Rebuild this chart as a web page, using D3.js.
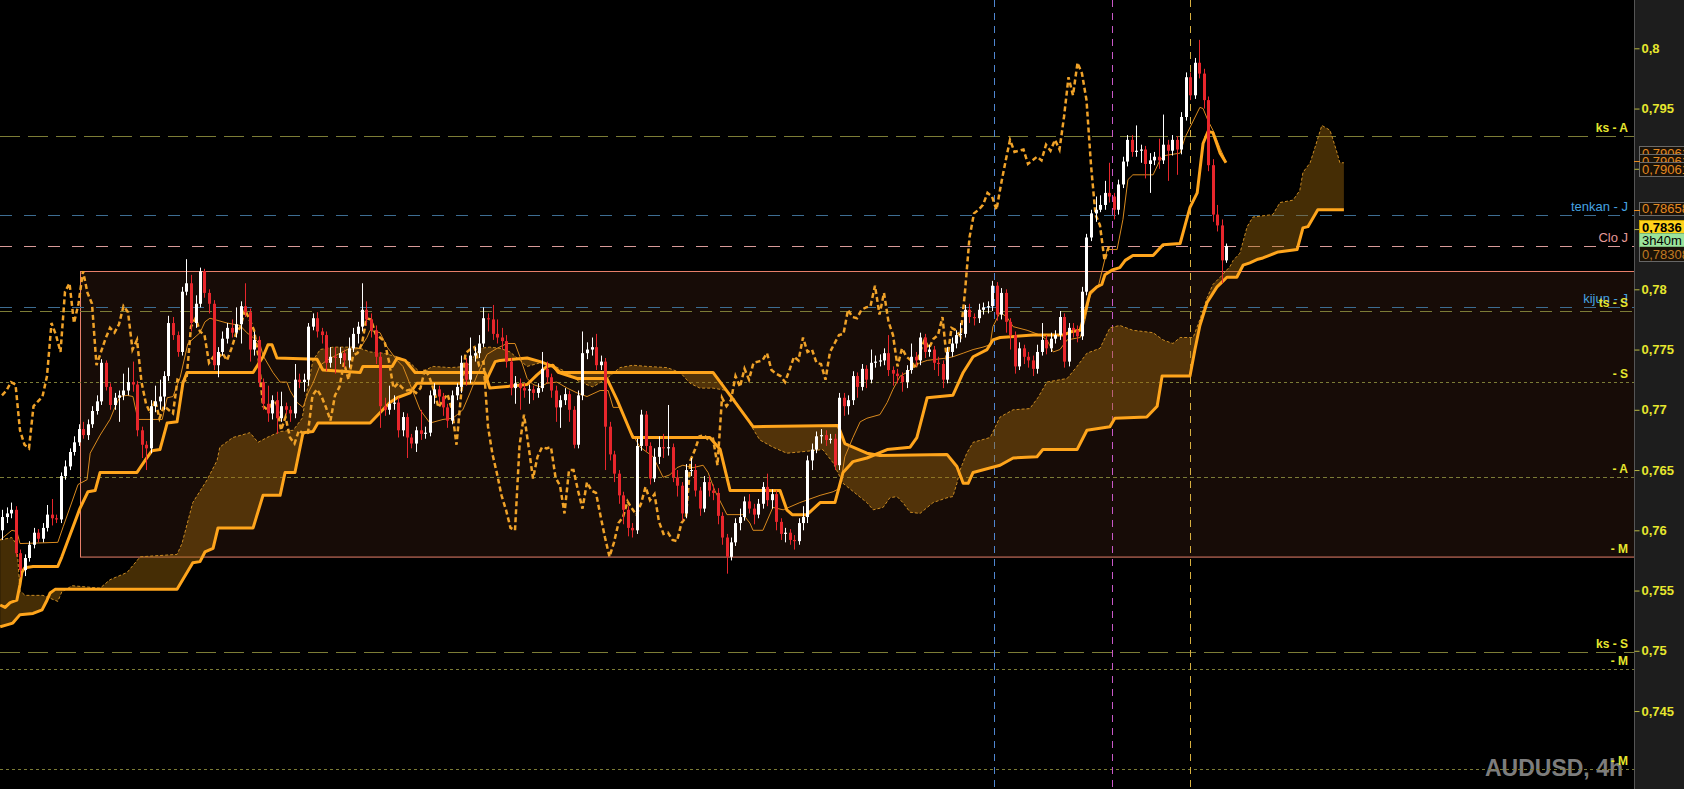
<!DOCTYPE html>
<html><head><meta charset="utf-8">
<script src="https://cdn.jsdelivr.net/npm/d3@7"></script>
<style>html,body{margin:0;background:#000;overflow:hidden}</style>
</head><body>
<svg id="c" width="1684" height="789"></svg>
<script>
// ---------- DATA ----------
const firstOpen = 0.7600;
const closes = [
.7611,.7614,.7617,.7581,.7567,.7577,.7588,.7598,.7593,.7602,
.7613,.7610,.7609,.7645,.7653,.7665,.7673,.7684,.7679,.7688,
.7699,.7707,.7739,.7719,.7704,.7710,.7712,.7716,.7723,.7721,
.7683,.7671,.7668,.7703,.7707,.7711,.7728,.7772,.7762,.7748,
.7798,.7805,.7772,.7788,.7815,.7797,.7788,.7737,.7748,.7759,
.7768,.7764,.7771,.7786,.7781,.7750,.7758,.7723,.7705,.7697,
.7708,.7693,.7703,.7700,.7697,.7725,.7723,.7725,.7769,.7776,
.7765,.7762,.7739,.7744,.7743,.7747,.7741,.7751,.7763,.7769,
.7783,.7775,.7766,.7744,.7703,.7700,.7705,.7706,.7683,.7694,
.7677,.7672,.7683,.7680,.7681,.7712,.7717,.7711,.7702,.7691,
.7712,.7719,.7739,.7725,.7745,.7747,.7755,.7776,.7775,.7763,
.7760,.7757,.7740,.7718,.7722,.7718,.7716,.7717,.7714,.7718,
.7734,.7727,.7716,.7702,.7708,.7713,.7700,.7671,.7712,.7747,
.7750,.7752,.7737,.7740,.7686,.7663,.7647,.7629,.7617,.7602,
.7600,.7670,.7696,.7670,.7643,.7661,.7669,.7668,.7669,.7644,
.7637,.7614,.7650,.7650,.7633,.7618,.7640,.7633,.7631,.7612,
.7594,.7578,.7590,.7606,.7611,.7624,.7618,.7613,.7622,.7636,
.7625,.7630,.7607,.7597,.7598,.7592,.7591,.7606,.7611,.7658,
.7667,.7678,.7679,.7675,.7676,.7654,.7710,.7703,.7708,.7728,
.7719,.7734,.7725,.7739,.7740,.7741,.7747,.7733,.7730,.7728,
.7723,.7733,.7744,.7741,.7760,.7748,.7750,.7739,.7738,.7725,
.7748,.7755,.7762,.7763,.7783,.7777,.7776,.7783,.7785,.7786,
.7803,.7779,.7797,.7773,.7762,.7736,.7751,.7744,.7741,.7734,
.7748,.7758,.7751,.7759,.7762,.7777,.7740,.7768,.7766,.7761,
.7798,.7843,.7863,.7866,.7870,.7880,.7877,.7866,.7887,.7906,
.7924,.7914,.7915,.7916,.7904,.7907,.7910,.7907,.7920,.7915,
.7924,.7916,.7943,.7976,.7961,.7988,.7979,.7957,.7903,.7862,
.7853,.7824,.7836];
const highs = [
.7617,.7619,.7623,.7620,.7584,.7580,.7591,.7602,.7601,.7606,
.7621,.7626,.7613,.7648,.7658,.7668,.7678,.7688,.7690,.7692,
.7703,.7712,.7742,.7741,.7722,.7714,.7716,.7730,.7735,.7740,
.7724,.7686,.7674,.7708,.7720,.7725,.7732,.7778,.7777,.7765,
.7802,.7825,.7812,.7795,.7818,.7817,.7800,.7791,.7752,.7765,
.7772,.7775,.7785,.7790,.7805,.7784,.7765,.7761,.7726,.7720,
.7712,.7715,.7715,.7706,.7703,.7738,.7730,.7730,.7772,.7780,
.7781,.7768,.7765,.7752,.7752,.7752,.7750,.7760,.7768,.7773,
.7805,.7790,.7780,.7770,.7748,.7710,.7720,.7712,.7710,.7698,
.7697,.7680,.7686,.7700,.7686,.7716,.7722,.7720,.7714,.7705,
.7716,.7722,.7745,.7743,.7760,.7752,.7762,.7785,.7780,.7787,
.7775,.7768,.7762,.7743,.7728,.7726,.7722,.7721,.7720,.7722,
.7748,.7740,.7730,.7720,.7712,.7718,.7716,.7703,.7716,.7765,
.7756,.7760,.7763,.7745,.7743,.7690,.7666,.7650,.7632,.7620,
.7606,.7676,.7700,.7699,.7673,.7668,.7678,.7680,.7704,.7672,
.7650,.7640,.7655,.7660,.7655,.7636,.7645,.7645,.7638,.7635,
.7615,.7597,.7594,.7610,.7618,.7628,.7630,.7622,.7626,.7640,
.7647,.7634,.7633,.7610,.7602,.7601,.7596,.7610,.7620,.7662,
.7672,.7682,.7684,.7683,.7680,.7680,.7714,.7714,.7712,.7732,
.7731,.7738,.7737,.7750,.7745,.7746,.7751,.7762,.7736,.7734,
.7731,.7737,.7755,.7748,.7764,.7763,.7754,.7753,.7744,.7741,
.7752,.7760,.7766,.7772,.7787,.7788,.7780,.7788,.7789,.7790,
.7807,.7806,.7801,.7800,.7776,.7765,.7756,.7754,.7748,.7745,
.7754,.7772,.7762,.7764,.7766,.7782,.7780,.7772,.7772,.7770,
.7802,.7846,.7866,.7877,.7878,.7890,.7905,.7880,.7891,.7910,
.7928,.7928,.7936,.7920,.7919,.7913,.7914,.7925,.7945,.7924,
.7928,.7927,.7947,.7980,.7980,.7992,.8007,.7983,.7960,.7908,
.7870,.7858,.7838];
const lows = [
.7592,.7606,.7610,.7578,.7561,.7562,.7574,.7585,.7590,.7590,
.7599,.7604,.7606,.7606,.7642,.7650,.7662,.7670,.7676,.7675,
.7685,.7696,.7704,.7716,.7700,.7700,.7690,.7708,.7712,.7715,
.7678,.7660,.7650,.7664,.7698,.7700,.7700,.7724,.7758,.7744,
.7745,.7795,.7765,.7768,.7785,.7793,.7780,.7733,.7727,.7745,
.7755,.7760,.7760,.7755,.7777,.7740,.7745,.7719,.7700,.7690,
.7692,.7680,.7690,.7696,.7690,.7693,.7718,.7715,.7720,.7766,
.7760,.7755,.7732,.7735,.7730,.7738,.7735,.7735,.7748,.7755,
.7765,.7770,.7760,.7738,.7685,.7695,.7696,.7700,.7677,.7678,
.7660,.7668,.7665,.7675,.7676,.7678,.7705,.7705,.7695,.7685,
.7688,.7708,.7714,.7720,.7722,.7740,.7743,.7752,.7765,.7758,
.7755,.7750,.7735,.7712,.7705,.7700,.7710,.7705,.7708,.7710,
.7715,.7722,.7710,.7690,.7685,.7704,.7690,.7668,.7668,.7708,
.7742,.7745,.7733,.7733,.7650,.7658,.7640,.7622,.7605,.7595,
.7594,.7597,.7666,.7665,.7638,.7640,.7655,.7660,.7662,.7640,
.7628,.7608,.7610,.7645,.7628,.7612,.7615,.7628,.7625,.7605,
.7588,.7564,.7575,.7587,.7600,.7608,.7614,.7605,.7610,.7618,
.7620,.7618,.7600,.7592,.7590,.7588,.7584,.7588,.7600,.7606,
.7650,.7664,.7672,.7670,.7672,.7650,.7650,.7695,.7696,.7704,
.7710,.7716,.7718,.7722,.7735,.7736,.7737,.7728,.7720,.7722,
.7715,.7718,.7730,.7736,.7737,.7743,.7744,.7733,.7728,.7718,
.7722,.7744,.7751,.7756,.7760,.7772,.7770,.7772,.7779,.7780,
.7782,.7774,.7775,.7764,.7750,.7730,.7733,.7738,.7735,.7728,
.7730,.7745,.7746,.7748,.7755,.7758,.7735,.7736,.7760,.7756,
.7758,.7795,.7840,.7856,.7864,.7866,.7872,.7858,.7862,.7884,
.7902,.7910,.7910,.7905,.7892,.7880,.7903,.7900,.7904,.7890,
.7911,.7895,.7912,.7940,.7957,.7958,.7975,.7950,.7898,.7856,
.7848,.7805,.7822];

// Ichimoku lines as [bar index, price] vertices
const tenkan = [[-0.4,.7592],[2.2,.7600],[3.3,.7599],[4.0,.7589],[12.4,.7590],[13.6,.7603],[16.9,.7638],[18.9,.7642],[19.6,.7664],[21.8,.7679],[24.0,.7692],[25.1,.7702],[26.2,.7711],[27.8,.7712],[29.1,.7711],[30.2,.7692],[35.6,.7692],[36.7,.7710],[38.0,.7711],[39.6,.7727],[41.3,.7755],[44.0,.7764],[45.1,.7773],[46.2,.7776],[50.0,.7772],[52.9,.7770],[54.4,.7764],[55.8,.7760],[57.3,.7755],[58.0,.7745],[60.2,.7731],[61.8,.7723],[63.3,.7723],[64.0,.7716],[65.6,.7706],[66.9,.7702],[68.0,.7714],[69.1,.7722],[70.7,.7737],[72.2,.7741],[73.6,.7744],[76.7,.7750],[79.6,.7751],[81.1,.7760],[81.8,.7766],[84.0,.7764],[85.6,.7752],[87.8,.7741],[89.1,.7736],[90.7,.7721],[92.9,.7700],[95.1,.7689],[98.0,.7692],[100.2,.7693],[102.4,.7700],[104.0,.7714],[105.6,.7729],[107.8,.7746],[110.0,.7751],[112.2,.7755],[114.0,.7755],[115.1,.7744],[116.7,.7726],[118.0,.7721],[119.6,.7719],[121.1,.7722],[123.3,.7723],[125.6,.7718],[127.8,.7714],[130.0,.7711],[132.9,.7716],[134.7,.7716],[135.8,.7702],[137.3,.7702],[139.6,.7683],[141.8,.7669],[144.7,.7661],[146.9,.7644],[148.4,.7646],[150.0,.7652],[151.3,.7654],[153.6,.7652],[155.8,.7654],[156.9,.7648],[158.4,.7633],[161.1,.7613],[164.7,.7613],[166.2,.7606],[166.9,.7600],[169.1,.7600],[171.3,.7619],[173.6,.7617],[177.3,.7623],[181.8,.7629],[184.7,.7632],[186.2,.7635],[187.3,.7661],[189.1,.7677],[190.7,.7690],[192.2,.7693],[195.1,.7696],[196.7,.7706],[198.0,.7717],[199.6,.7728],[201.1,.7731],[202.4,.7735],[204.0,.7739],[205.6,.7741],[210.0,.7743],[211.3,.7744],[213.6,.7747],[215.8,.7750],[218.0,.7752],[219.6,.7754],[220.2,.7769],[221.8,.7781],[223.3,.7777],[224.7,.7769],[227.8,.7766],[230.7,.7762],[232.2,.7758],[233.6,.7748],[235.1,.7750],[236.7,.7758],[239.6,.7760],[240.7,.7775],[241.8,.7795],[243.6,.7802],[245.6,.7833],[247.8,.7833],[249.1,.7858],[250.2,.7891],[251.3,.7895],[255.8,.7895],[257.3,.7907],[258.4,.7911],[261.8,.7913],[262.9,.7926],[266.2,.7951],[266.9,.7950],[268.0,.7940],[269.1,.7932],[270.7,.7917],[272.0,.7906]];

const kijun = [[-0.4,.7538],[0.7,.7536],[1.8,.7540],[3.3,.7542],[4.0,.7555],[4.4,.7565],[5.1,.7569],[6.9,.7570],[12.4,.7570],[13.3,.7578],[14.4,.7589],[17.3,.7618],[19.1,.7632],[20.7,.7633],[21.8,.7648],[30.0,.7648],[31.8,.7658],[33.3,.7666],[35.1,.7667],[36.7,.7689],[38.9,.7690],[40.2,.7722],[41.1,.7731],[55.8,.7731],[58.0,.7744],[59.1,.7754],[60.0,.7754],[61.1,.7743],[70.0,.7742],[71.3,.7733],[79.6,.7731],[80.2,.7736],[86.7,.7736],[87.8,.7743],[89.6,.7741],[91.8,.7731],[107.3,.7731],[108.4,.7718],[116.7,.7721],[118.9,.7729],[121.1,.7736],[122.4,.7737],[123.6,.7731],[127.8,.7726],[134.4,.7726],[136.7,.7708],[140.2,.7677],[157.3,.7677],[159.6,.7667],[161.8,.7633],[172.9,.7633],[174.4,.7617],[175.6,.7613],[178.9,.7613],[181.8,.7623],[185.1,.7623],[186.9,.7648],[189.1,.7657],[192.2,.7660],[196.7,.7667],[201.8,.7669],[203.3,.7677],[205.6,.7710],[211.3,.7712],[213.6,.7731],[215.8,.7744],[218.9,.7750],[220.2,.7758],[221.8,.7760],[229.1,.7762],[235.8,.7762],[237.8,.7765],[239.6,.7766],[240.7,.7781],[241.8,.7797],[243.3,.7802],[244.4,.7804],[245.1,.7812],[246.7,.7816],[248.4,.7818],[249.6,.7824],[251.3,.7828],[255.8,.7828],[258.0,.7837],[261.8,.7838],[262.9,.7853],[264.0,.7868],[265.6,.7880],[266.9,.7921],[268.0,.7931],[269.1,.7930],[270.7,.7913],[272.0,.7905]];

const spanA = [[-0.4,.7592],[2.2,.7594],[3.3,.7588],[4.0,.7550],[5.1,.7546],[9.1,.7546],[12.4,.7541],[13.3,.7549],[15.6,.7554],[21.8,.7552],[24.0,.7559],[27.8,.7565],[30.7,.7578],[38.9,.7580],[40.0,.7589],[42.4,.7623],[45.6,.7642],[47.8,.7658],[48.4,.7669],[51.3,.7677],[55.1,.7681],[56.9,.7673],[58.9,.7677],[61.8,.7682],[64.7,.7683],[66.7,.7693],[67.8,.7716],[69.1,.7741],[70.7,.7750],[73.6,.7752],[78.0,.7752],[79.6,.7751],[81.8,.7748],[84.7,.7747],[87.8,.7744],[90.7,.7739],[92.9,.7731],[95.8,.7736],[99.6,.7735],[103.3,.7736],[106.2,.7751],[108.4,.7752],[110.7,.7751],[112.9,.7748],[116.7,.7736],[119.6,.7739],[122.4,.7737],[125.6,.7731],[128.4,.7723],[131.3,.7719],[134.4,.7726],[137.3,.7735],[140.2,.7737],[143.3,.7736],[147.8,.7735],[150.7,.7731],[152.9,.7722],[155.1,.7718],[158.0,.7718],[161.1,.7716],[162.4,.7711],[165.6,.7692],[168.4,.7675],[171.3,.7669],[174.4,.7664],[177.3,.7665],[182.4,.7667],[184.7,.7656],[186.9,.7639],[192.2,.7623],[193.6,.7617],[195.8,.7619],[197.3,.7627],[198.9,.7628],[200.2,.7623],[201.8,.7615],[204.0,.7614],[206.9,.7623],[210.0,.7627],[211.3,.7628],[212.2,.7639],[212.9,.7650],[214.4,.7664],[215.8,.7673],[219.6,.7677],[221.8,.7694],[224.7,.7700],[228.4,.7701],[230.2,.7710],[232.2,.7723],[236.7,.7726],[238.9,.7736],[241.1,.7747],[244.0,.7751],[246.2,.7768],[248.4,.7770],[251.3,.7766],[255.8,.7764],[258.0,.7758],[260.2,.7755],[261.8,.7760],[264.7,.7760],[266.2,.7775],[267.8,.7793],[269.1,.7804],[270.7,.7810],[272.9,.7819],[273.6,.7824],[275.1,.7830],[276.7,.7852],[278.0,.7860],[282.4,.7862],[284.0,.7872],[286.9,.7874],[288.4,.7882],[289.1,.7897],[290.7,.7905],[291.8,.7918],[293.3,.7936],[295.1,.7932],[295.8,.7924],[296.7,.7913],[297.3,.7905],[298.2,.7905]];

const spanB = [[-0.4,.7520],[2.4,.7523],[4.0,.7530],[6.9,.7531],[8.9,.7534],[10.0,.7542],[10.7,.7548],[11.8,.7551],[38.9,.7551],[42.4,.7573],[44.0,.7574],[45.1,.7582],[46.9,.7585],[48.0,.7602],[55.8,.7602],[58.0,.7629],[61.8,.7629],[62.9,.7648],[65.1,.7648],[66.9,.7681],[69.1,.7682],[70.2,.7689],[81.8,.7689],[86.2,.7706],[87.8,.7710],[90.7,.7714],[92.2,.7722],[107.3,.7722],[109.6,.7740],[110.7,.7741],[116.7,.7743],[119.6,.7740],[122.4,.7736],[124.0,.7731],[158.0,.7731],[161.8,.7712],[166.9,.7686],[185.8,.7687],[187.3,.7672],[192.2,.7664],[195.1,.7662],[210.0,.7663],[212.2,.7653],[213.6,.7639],[214.7,.7639],[215.8,.7648],[221.8,.7654],[224.7,.7660],[230.0,.7661],[231.3,.7667],[238.9,.7667],[241.1,.7683],[246.2,.7686],[247.3,.7693],[254.4,.7694],[256.7,.7703],[257.8,.7728],[264.0,.7728],[265.1,.7750],[266.2,.7770],[267.8,.7789],[270.0,.7802],[271.1,.7806],[272.2,.7810],[274.4,.7810],[275.8,.7820],[277.3,.7822],[279.1,.7825],[280.2,.7826],[283.6,.7831],[287.8,.7833],[289.1,.7851],[290.2,.7852],[292.4,.7866],[298.2,.7866]];

const chikouShift = 26;
const yTicks = [0.745,0.75,0.755,0.76,0.765,0.77,0.775,0.78,0.785,0.79,0.795,0.8];
const levelValues = [0.7927,0.7862,0.7836,0.7785,0.7782,0.7723,0.7644,0.7578,0.7499,0.7485,0.7402];
const levelLabels = ["ks - A","tenkan - J","Clo J","kijun - J","ts - S","- S","- A","- M","ks - S","- M","- M"];
const zoneTop = 0.7815, zoneBottom = 0.7578, zoneStart = 17.3;
const markerBars = [220.4, 246.7, 264.0];
const lineTagValues = [0.79061, 0.79061, 0.79061];
const spanBTag = 0.78658;
const lastPrice = 0.7836;
const timerText = "3h40m";
const symbolText = "AUDUSD, 4h";

// ---------- STYLES ----------
const W = 1684, H = 789, plotRight = 1634;
const FONT = "'Liberation Sans', Arial, sans-serif";
const YEL = "#e6e62e", BLUE = "#45a3e0", PINK = "#e69a98";
const OLIVE = "#7c7c36", BLUEL = "#3d6d92", PINKL = "#d89a98";
const levelStyle = [
  {c:OLIVE, d:"20,8", t:YEL, b:true},
  {c:BLUEL, d:"12,12", t:BLUE, b:false},
  {c:PINKL, d:"12,12", t:PINK, b:false},
  {c:BLUEL, d:"12,12", t:BLUE, b:false},
  {c:OLIVE, d:"12,8", t:YEL, b:true},
  {c:OLIVE, d:"3,3", t:YEL, b:true},
  {c:OLIVE, d:"4,3", t:YEL, b:true},
  {c:"none", d:"", t:YEL, b:true},
  {c:OLIVE, d:"20,8", t:YEL, b:true},
  {c:OLIVE, d:"3,3", t:YEL, b:true},
  {c:OLIVE, d:"3,3", t:YEL, b:true}
];
const markerColors = ["#4f86d0","#c858c8","#d8b040"];

// ---------- SCALES ----------
const x = d3.scaleLinear().domain([0, 272]).range([2, 1226]);
const y = d3.scaleLinear().domain([0.74, 0.80]).range([771.3, 48.3]);

const svg = d3.select("#c");
svg.append("rect").attr("width", W).attr("height", H).attr("fill", "#000");
svg.append("defs").append("clipPath").attr("id","plot")
  .append("rect").attr("x",0).attr("y",0).attr("width",plotRight).attr("height",H);
const g = svg.append("g").attr("clip-path","url(#plot)");

// watermark
g.append("text").attr("x",1623).attr("y",776).attr("text-anchor","end")
  .attr("font-family",FONT).attr("font-weight","bold").attr("font-size",23)
  .attr("fill","#7d7d7d").text(symbolText);

// zone rectangle
g.append("rect").attr("x", Math.round(x(zoneStart))+0.5).attr("y", Math.round(y(zoneTop))+0.5)
  .attr("width", plotRight - x(zoneStart)).attr("height", y(zoneBottom) - y(zoneTop))
  .attr("fill","#170c07").attr("stroke","#e8806a").attr("stroke-width",1);

// horizontal levels
levelValues.forEach((v,k)=>{
  const s = levelStyle[k];
  if (s.c !== "none") {
    g.append("line").attr("x1",0).attr("x2",plotRight)
      .attr("y1",Math.round(y(v))+0.5).attr("y2",Math.round(y(v))+0.5)
      .attr("stroke",s.c).attr("stroke-width",1).attr("stroke-dasharray",s.d);
  }
});
// vertical markers
markerBars.forEach((b,k)=>{
  g.append("line").attr("x1",Math.round(x(b))+0.5).attr("x2",Math.round(x(b))+0.5)
    .attr("y1",0).attr("y2",H).attr("stroke",markerColors[k]).attr("stroke-width",1)
    .attr("stroke-dasharray","7,6");
});

// cloud
const ln = d3.line().x(d=>x(d[0])).y(d=>y(d[1]));
g.append("path").attr("d", ln(spanA.concat(spanB.slice().reverse())) + "Z")
  .attr("fill","rgb(165,108,12)").attr("fill-opacity",0.42).attr("fill-rule","evenodd");

// lines
g.append("path").attr("d", ln(spanA)).attr("fill","none")
  .attr("stroke","#c98a22").attr("stroke-width",1).attr("stroke-dasharray","3,2");
g.append("path").attr("d", ln(spanB)).attr("fill","none")
  .attr("stroke","#ffa51c").attr("stroke-width",3).attr("stroke-linejoin","round");
g.append("path").attr("d", ln(tenkan)).attr("fill","none")
  .attr("stroke","#d98a1e").attr("stroke-width",1);
g.append("path").attr("d", ln(kijun)).attr("fill","none")
  .attr("stroke","#ffa51c").attr("stroke-width",3).attr("stroke-linejoin","round");
const chikou = closes.slice(chikouShift).map((c,j)=>[j,c]);
g.append("path").attr("d", ln(chikou)).attr("fill","none")
  .attr("stroke","#f0a228").attr("stroke-width",2.5).attr("stroke-dasharray","5,3");

// candles
const opens = closes.map((c,i)=> i===0 ? firstOpen : closes[i-1]);
const cg = g.append("g");
closes.forEach((c,i)=>{
  const o = opens[i];
  const up = c >= o;
  const col = up ? "#ffffff" : "#e8262c";
  const cx = Math.round(x(i));
  cg.append("line").attr("x1",cx+0.5).attr("x2",cx+0.5)
    .attr("y1",y(highs[i])).attr("y2",y(lows[i])).attr("stroke",col).attr("stroke-width",1);
  const top = y(Math.max(o,c)), bot = y(Math.min(o,c));
  cg.append("rect").attr("x",cx-1).attr("y",top).attr("width",3)
    .attr("height",Math.max(1,bot-top)).attr("fill",col);
});

// level labels
levelValues.forEach((v,k)=>{
  const s = levelStyle[k];
  svg.append("text").attr("x",1628).attr("y",y(v)-4).attr("text-anchor","end")
    .attr("font-family",FONT).attr("font-size", s.b ? 12 : 13)
    .attr("font-weight", s.b ? "bold" : "normal").attr("fill",s.t).text(levelLabels[k]);
});

// ---------- AXIS PANEL ----------
svg.append("rect").attr("x",plotRight).attr("y",0).attr("width",W-plotRight).attr("height",H).attr("fill","#1d1d1d");
svg.append("line").attr("x1",plotRight+0.5).attr("x2",plotRight+0.5).attr("y1",0).attr("y2",H)
  .attr("stroke","#555").attr("stroke-width",1);
const fmt = v => (+v.toFixed(3)).toString().replace(".", ",");
const ax = svg.append("g").attr("transform",`translate(${plotRight+0.5},0)`)
  .call(d3.axisRight(y).tickValues(yTicks).tickSize(5).tickFormat(fmt));
ax.select(".domain").remove();
ax.selectAll(".tick line").attr("stroke","#b8b840");
ax.selectAll(".tick text").attr("x",7).attr("fill",YEL).attr("font-family",FONT)
  .attr("font-size",13).attr("font-weight","bold");

// price tags
function tag(top, h, fill, stroke, txt, tcol, bold){
  svg.append("rect").attr("x",1639.5).attr("y",top+0.5).attr("width",50).attr("height",h)
    .attr("fill",fill).attr("stroke",stroke).attr("stroke-width",1);
  svg.append("text").attr("x",1642).attr("y",top+h-2.5).attr("font-family",FONT)
    .attr("font-size",13).attr("font-weight",bold?"bold":"normal").attr("fill",tcol).text(txt);
}
const tagTxt = v => v.toFixed(5).replace(".", ",");
// hidden tag behind timer
tag(Math.round(y(lastPrice)), 15, "#1a1208", "#666", tagTxt(0.78308), "#c07a22", false);
lineTagValues.forEach((v,k)=>{
  tag(Math.round(y(v)) - 15 + 8*k, 14, "#1a1208", "#6a6a6a", tagTxt(v), "#e58a22", false);
});
svg.append("line").attr("x1",plotRight).attr("x2",1640).attr("y1",Math.round(y(lineTagValues[0]))+0.5)
  .attr("y2",Math.round(y(lineTagValues[0]))+0.5).attr("stroke","#e58a22");
tag(Math.round(y(spanBTag)) - 8, 13, "#1a1208", "#6a6a6a", tagTxt(spanBTag), "#e58a22", false);
svg.append("line").attr("x1",plotRight).attr("x2",1640).attr("y1",Math.round(y(spanBTag))+0.5)
  .attr("y2",Math.round(y(spanBTag))+0.5).attr("stroke","#e58a22");
// last price (yellow) and timer (green)
const lpTop = Math.round(y(lastPrice)) - 26;
svg.append("rect").attr("x",1639.5).attr("y",lpTop+0.5).attr("width",50).attr("height",13)
  .attr("fill","#ffd21a").attr("stroke","#c9a400");
svg.append("text").attr("x",1642).attr("y",lpTop+11.5).attr("font-family",FONT).attr("font-size",13)
  .attr("font-weight","bold").attr("fill","#000").text(lastPrice.toFixed(4).replace(".", ","));
svg.append("rect").attr("x",1639.5).attr("y",lpTop+13.5).attr("width",50).attr("height",13)
  .attr("fill","#9be39b").attr("stroke","#7ab87a");
svg.append("text").attr("x",1642).attr("y",lpTop+24.5).attr("font-family",FONT).attr("font-size",13)
  .attr("fill","#000").text(timerText);
</script>
</body></html>
